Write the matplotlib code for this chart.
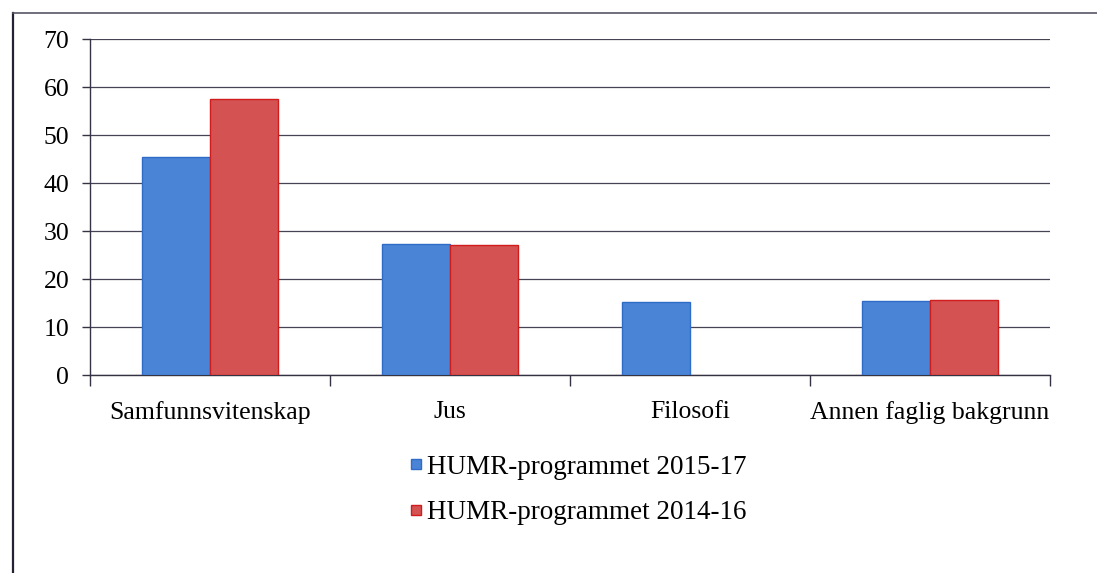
import matplotlib.pyplot as plt
import numpy as np
import matplotlib as mpl
from matplotlib.lines import Line2D

mpl.rcParams['font.family'] = 'serif'
mpl.rcParams['font.serif'] = ['Liberation Serif', 'DejaVu Serif']

kategorier = ['Samfunnsvitenskap', 'Jus', 'Filosofi', 'Annen faglig bakgrunn']
serie_2015 = [45.4, 27.3, 15.3, 15.4]
serie_2014 = [57.5, 27.1, 0, 15.7]
serie_navn = ['HUMR-programmet 2015-17', 'HUMR-programmet 2014-16']

fig = plt.figure(figsize=(10.97, 5.73), dpi=100)
ax = fig.add_axes([90 / 1097, 1 - 375 / 573, 960 / 1097, 336 / 573])

x = np.arange(len(kategorier))
w = 0.283
b1 = ax.bar(x - w / 2, serie_2015, w, color='#4a84d6', edgecolor='#2f6cc8', linewidth=1,
            label=serie_navn[0], zorder=3)
b2 = ax.bar(x + w / 2, serie_2014, w, color='#d45252', edgecolor='#d01c1c', linewidth=1,
            label=serie_navn[1], zorder=3)
# Excel tegner ingenting for verdien 0
for bars in (b1, b2):
    for r in bars:
        if r.get_height() == 0:
            r.set_linewidth(0)

ax.set_xlim(-0.5, len(kategorier) - 0.5)
ax.set_ylim(0, 70)
ax.set_yticks(range(0, 71, 10))
ax.yaxis.grid(True, color='#444455', linewidth=0.9, zorder=0)
ax.set_axisbelow(True)

ax.set_xticks(x)
ax.set_xticklabels(kategorier, fontsize=18.5)
ax.set_xticks(np.arange(-0.5, len(kategorier), 1), minor=True)
ax.tick_params(axis='x', which='major', length=0, pad=19)
ax.tick_params(axis='x', which='minor', length=8, width=1, color='#333344', direction='out')
ax.tick_params(axis='y', labelsize=18.5, length=6, width=1, color='#333344', pad=9)

for s in ['top', 'right']:
    ax.spines[s].set_visible(False)
for s in ['left', 'bottom']:
    ax.spines[s].set_color('#333344')
    ax.spines[s].set_linewidth(1)

handles = [
    Line2D([], [], marker='s', linestyle='none', markersize=7.5,
           markerfacecolor='#4a84d6', markeredgecolor='#2f6cc8'),
    Line2D([], [], marker='s', linestyle='none', markersize=7.5,
           markerfacecolor='#d45252', markeredgecolor='#d01c1c'),
]
fig.legend(handles, serie_navn, loc='center', bbox_to_anchor=(578 / 1097, 1 - 490 / 573),
           frameon=False, fontsize=19.5, handlelength=0.5, handletextpad=0.15,
           labelspacing=0.75)

# ramme rundt diagrammet (skannet)
fig.add_artist(Line2D([13 / 1097, 13 / 1097], [0, 1 - 13 / 573], color='#222233',
                      linewidth=1.6, transform=fig.transFigure))
fig.add_artist(Line2D([13 / 1097, 1], [1 - 13 / 573, 1 - 13 / 573], color='#555566',
                      linewidth=1.2, transform=fig.transFigure))

fig.savefig('out.png', dpi=100)
